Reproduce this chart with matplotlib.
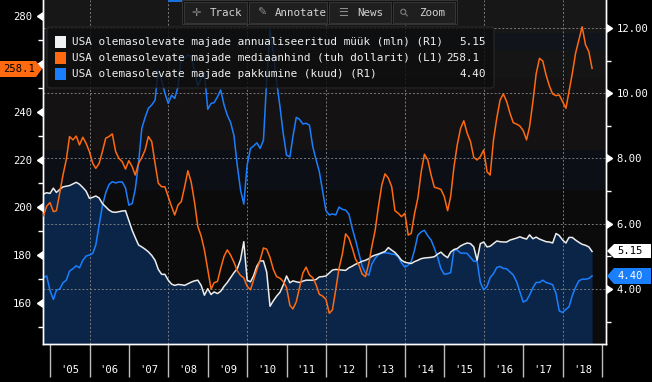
import matplotlib
matplotlib.use('Agg')
import matplotlib.pyplot as plt
import matplotlib.transforms as mtransforms
from matplotlib.patches import Polygon, Rectangle, FancyBboxPatch
from matplotlib.ticker import FixedLocator
import pandas as pd

# monthly data, Oct 2004 .. Sep 2018 (one row = Oct..Sep)
months = pd.date_range('2004-10-31', periods=168, freq='ME')

# existing home sales, annualised (mln) - right axis
sales = [
    6.91, 6.95, 6.93, 7.09, 6.96, 7.05, 7.13, 7.15, 7.17, 7.22, 7.27, 7.21,
    7.11, 7.00, 6.78, 6.81, 6.85, 6.79, 6.62, 6.52, 6.42, 6.36, 6.35, 6.37,
    6.39, 6.40, 6.10, 5.80, 5.58, 5.35, 5.29, 5.22, 5.14, 5.03, 4.88, 4.60,
    4.45, 4.45, 4.27, 4.15, 4.11, 4.14, 4.13, 4.11, 4.16, 4.21, 4.25, 4.27,
    4.11, 3.81, 4.01, 3.83, 3.91, 3.86, 3.93, 4.08, 4.20, 4.35, 4.50, 4.62,
    4.90, 5.45, 4.27, 4.22, 4.40, 4.70, 4.86, 4.86, 4.52, 3.47, 3.64, 3.78,
    3.90, 4.12, 4.40, 4.19, 4.25, 4.22, 4.20, 4.24, 4.27, 4.27, 4.27, 4.29,
    4.37, 4.38, 4.40, 4.49, 4.58, 4.60, 4.59, 4.58, 4.57, 4.65, 4.70, 4.76,
    4.80, 4.85, 4.88, 4.93, 5.00, 5.04, 5.07, 5.11, 5.15, 5.27, 5.19, 5.12,
    5.01, 4.88, 4.82, 4.80, 4.78, 4.84, 4.88, 4.93, 4.95, 4.96, 4.97, 4.99,
    5.07, 5.13, 5.03, 4.96, 5.13, 5.21, 5.24, 5.32, 5.37, 5.41, 5.39, 5.29,
    4.88, 5.39, 5.44, 5.29, 5.31, 5.39, 5.47, 5.45, 5.44, 5.44, 5.50, 5.53,
    5.56, 5.60, 5.56, 5.53, 5.66, 5.54, 5.59, 5.53, 5.49, 5.45, 5.44, 5.41,
    5.70, 5.64, 5.50, 5.41, 5.58, 5.58, 5.50, 5.43, 5.37, 5.34, 5.29, 5.15,
]

# median price (thousand USD) - left axis
price = [
    196.5, 200.5, 202.0, 198.2, 198.6, 206.0, 213.5, 220.0, 229.6, 228.2, 229.8, 226.1,
    229.3, 226.8, 223.3, 218.4, 216.3, 218.4, 223.3, 228.9, 229.6, 230.7, 223.3, 220.5,
    219.1, 216.0, 219.5, 217.0, 213.5, 218.4, 220.8, 224.0, 229.6, 227.5, 218.4, 210.1,
    208.6, 208.6, 204.5, 200.3, 196.8, 201.0, 202.4, 208.6, 215.3, 210.5, 202.0, 192.0,
    188.0, 182.2, 174.0, 165.8, 168.5, 169.0, 174.5, 179.5, 182.2, 180.0, 177.0, 173.5,
    171.5, 170.5, 167.0, 165.5, 169.5, 174.0, 178.0, 183.0, 182.5, 179.0, 174.0, 171.0,
    170.4, 169.0, 166.5, 159.0, 157.5, 160.5, 166.5, 172.5, 175.0, 171.7, 170.6, 167.7,
    163.6, 162.9, 161.5, 155.7, 157.1, 165.7, 174.5, 180.5, 188.9, 187.1, 182.9, 178.3,
    175.9, 172.1, 171.0, 176.6, 183.6, 190.5, 200.3, 209.3, 214.0, 212.2, 208.6, 198.6,
    197.5, 196.1, 197.5, 188.4, 189.1, 197.5, 203.8, 214.8, 222.2, 219.8, 213.5, 208.4,
    208.0, 207.5, 204.5, 198.6, 204.5, 217.0, 226.1, 233.0, 236.2, 231.0, 227.5, 220.9,
    219.8, 221.2, 224.0, 214.9, 213.5, 228.2, 237.2, 244.9, 247.4, 244.2, 239.3, 235.4,
    234.8, 234.0, 232.1, 228.2, 233.7, 244.2, 255.8, 262.3, 261.2, 255.3, 250.7, 247.4,
    246.7, 247.0, 244.2, 241.4, 248.4, 256.0, 264.4, 270.0, 275.5, 268.0, 265.1, 258.1,
]

# months of supply - right axis
supply = [
    4.35, 4.40, 3.95, 3.68, 3.96, 4.00, 4.19, 4.27, 4.55, 4.62, 4.71, 4.65,
    4.88, 5.01, 5.04, 5.09, 5.35, 5.95, 6.55, 6.95, 7.20, 7.29, 7.25, 7.28,
    7.28, 7.10, 6.57, 6.62, 7.05, 7.85, 8.92, 9.26, 9.54, 9.64, 9.79, 10.71,
    10.40, 10.00, 9.69, 9.94, 9.84, 10.20, 11.10, 11.07, 11.17, 11.12, 10.66, 10.22,
    10.46, 10.63, 9.51, 9.69, 9.71, 9.89, 10.10, 9.64, 9.33, 9.10, 8.70, 7.80,
    7.03, 6.60, 7.80, 8.31, 8.38, 8.48, 8.31, 8.56, 10.40, 11.95, 11.22, 10.35,
    9.59, 8.77, 8.10, 8.05, 8.67, 9.26, 9.20, 9.06, 9.08, 9.02, 8.36, 7.97,
    7.59, 7.00, 6.40, 6.27, 6.30, 6.27, 6.51, 6.44, 6.42, 6.29, 5.85, 5.50,
    5.09, 4.70, 4.49, 4.42, 4.77, 4.94, 5.05, 5.10, 5.11, 5.10, 5.07, 5.06,
    4.98, 4.80, 4.67, 4.73, 4.84, 5.20, 5.65, 5.75, 5.80, 5.63, 5.50, 5.25,
    4.97, 4.62, 4.45, 4.47, 4.50, 5.20, 5.19, 5.10, 5.10, 5.09, 4.97, 4.85,
    4.85, 4.20, 3.97, 4.08, 4.35, 4.47, 4.66, 4.69, 4.63, 4.62, 4.52, 4.43,
    4.22, 3.92, 3.60, 3.65, 3.81, 4.04, 4.20, 4.20, 4.27, 4.20, 4.17, 4.13,
    3.86, 3.33, 3.28, 3.38, 3.45, 3.80, 4.05, 4.25, 4.30, 4.30, 4.32, 4.40,
]

years = list(range(2005, 2020))
year_labels = ["'05", "'06", "'07", "'08", "'09", "'10", "'11",
               "'12", "'13", "'14", "'15", "'16", "'17", "'18"]
left_ticks = [160, 180, 200, 220, 240, 260, 280]
left_labels = ['160', '180', '200', '220', '240', '', '280']
right_ticks = [4, 6, 8, 10, 12]

legend_rows = [
    ('USA olemasolevate majade annualiseeritud müük (mln) (R1)', '5.15', '#f2f2f2'),
    ('USA olemasolevate majade mediaanhind (tuh dollarit) (L1)', '258.1', '#ff6a10'),
    ('USA olemasolevate majade pakkumine (kuud) (R1)', '4.40', '#1a7fff'),
]

WHITE = '#ececec'
ORANGE = '#ff6a10'
BLUE = '#1a7fff'
plt.rcParams['font.family'] = ['DejaVu Sans Mono', 'DejaVu Sans']

W, H = 652, 382
fig = plt.figure(figsize=(W / 100, H / 100), dpi=100, facecolor='black')


def fxy(px, py):
    return px / W, 1 - py / H


ax = fig.add_axes([43 / W, 1 - 344 / H, 563 / W, 344 / H])
ax.set_facecolor('#0b0b0b')
axl = ax.twinx()
ax.yaxis.tick_right()
axl.yaxis.tick_left()

ax.set_xlim(pd.Timestamp('2004-10-27'), pd.Timestamp('2019-02-06'))
ax.set_ylim(2.314, 12.858)
axl.set_ylim(142.86, 286.69)

# background bands (pixel rows from top of plot)
bands = [(0, 33, '#171717'), (33, 50, '#11141b'), (50, 78, '#151515'),
         (78, 150, '#141213'), (150, 190, '#0c0f15'), (190, 344, '#0b0b0b')]
y0, y1 = ax.get_ylim()
for top, bot, col in bands:
    ax.axhspan(y1 - bot / 344 * (y1 - y0), y1 - top / 344 * (y1 - y0),
               color=col, lw=0, zorder=0.1)

# sales area + lines
ax.fill_between(months, sales, 0, color='#0a2548', lw=0, zorder=1)
ax.grid(axis='y', which='major', color='#7a7a7a', ls=(0, (2, 2)), lw=0.7)
for y in years:
    if y % 2 == 0:
        ax.axvline(pd.Timestamp(f'{y}-01-01'), color='#7a7a7a', ls=(0, (2, 2)),
                   lw=0.7, zorder=1.5)
ax.plot(months, supply, color=BLUE, lw=1.1, zorder=2)
ax.plot(months, sales, color=WHITE, lw=1.1, zorder=2.1)
axl.plot(months, price, color=ORANGE, lw=1.1, zorder=3)

# x axis: long year separators, labels in the middle of each year
ax.set_xticks([pd.Timestamp(f'{y}-01-01') for y in years])
ax.set_xticklabels([])
ax.set_xticks([pd.Timestamp(f'{y}-07-02') for y in years[:-1]], minor=True)
ax.set_xticklabels(year_labels, minor=True)
ax.tick_params(axis='x', which='major', length=24, width=1, color='#bdbdbd')
ax.tick_params(axis='x', which='minor', length=0, pad=15, labelsize=7.6,
               labelcolor='white')

# right axis
ax.set_yticks(right_ticks)
ax.set_yticklabels([f'{v:.2f}' for v in right_ticks])
ax.yaxis.set_minor_locator(FixedLocator([3, 5, 7, 9, 11]))
ax.tick_params(axis='y', which='major', length=0, pad=7.5, labelsize=7.6,
               labelcolor='white')
ax.tick_params(axis='y', which='minor', length=3.5, width=1, color='white')
tr = mtransforms.blended_transform_factory(ax.transAxes, ax.transData)
ax.plot([1] * len(right_ticks), right_ticks, ls='none', marker=9, ms=5.5,
        color='white', transform=tr, clip_on=False, zorder=5)

# left axis
axl.set_yticks(left_ticks)
axl.set_yticklabels(left_labels)
axl.yaxis.set_minor_locator(FixedLocator([150, 170, 190, 210, 230, 250, 270]))
axl.tick_params(axis='y', which='major', length=0, pad=8, labelsize=7.6,
                labelcolor='white')
axl.tick_params(axis='y', which='minor', length=3.5, width=1, color='white')
trl = mtransforms.blended_transform_factory(axl.transAxes, axl.transData)
axl.plot([0] * len(left_ticks), left_ticks, ls='none', marker=8, ms=5.5,
         color='white', transform=trl, clip_on=False, zorder=5)

for a in (ax, axl):
    a.spines['top'].set_visible(False)
    for s in ('left', 'right', 'bottom'):
        a.spines[s].set_color('white')
        a.spines[s].set_linewidth(1)


# value tags on the axes
def tag(points, face, text, tx, ty, tcol):
    fig.add_artist(Polygon([fxy(*p) for p in points], closed=True,
                           transform=fig.transFigure, facecolor=face,
                           edgecolor='none', zorder=5))
    fig.text(*fxy(tx, ty), text, color=tcol, ha='center', va='center',
             fontsize=7.6, zorder=6)


tag([(0, 61), (36, 61), (42, 69), (36, 77), (0, 77)], ORANGE, '258.1', 19, 69, 'black')
tag([(607, 251), (614, 244), (651, 244), (651, 258), (614, 258)], 'white', '5.15', 630, 251, 'black')
tag([(607, 276), (614, 268), (651, 268), (651, 284), (614, 284)], BLUE, '4.40', 630, 276, 'white')

# legend box
lx, ly = fxy(47, 88)
lw_, lh = 447 / W, 61 / H
fig.add_artist(FancyBboxPatch((lx, ly), lw_, lh, boxstyle='round,pad=0,rounding_size=0.006',
                              transform=fig.transFigure, facecolor='#0e0e0e',
                              edgecolor='#2e2e2e', lw=0.8, alpha=0.82, zorder=4))
value_right = [486, 479, 486]
for k, (label, val, col) in enumerate(legend_rows):
    cy = 42 + 16 * k
    fig.add_artist(Rectangle(fxy(55, cy + 6), 11 / W, 12 / H, transform=fig.transFigure,
                             facecolor=col, edgecolor='none', zorder=5))
    fig.text(*fxy(72, cy), label, color='#f0f0f0', fontsize=7.9, ha='left',
             va='center', zorder=6)
    fig.text(*fxy(value_right[k], cy), val, color='#f0f0f0', fontsize=7.9,
             ha='right', va='center', zorder=6)

# toolbar on top
fig.add_artist(Rectangle(fxy(168, 2), 29 / W, 2 / H, transform=fig.transFigure,
                         facecolor='#1a6fd8', edgecolor='none', zorder=4))
fig.add_artist(Rectangle(fxy(228, 2), 22 / W, 2 / H, transform=fig.transFigure,
                         facecolor='#1a6fd8', edgecolor='none', zorder=4))
fig.add_artist(Rectangle(fxy(182, 24), 275 / W, 24 / H, transform=fig.transFigure,
                         facecolor='#111111', edgecolor='#333333', lw=0.8, zorder=4))
buttons = [(184, 247, '\u271b', 196, 0, 'Track', 210),
           (249, 327, '\u270e', 262, 0, 'Annotate', 275),
           (329, 391, '\u2630', 343, 0, 'News', 357),
           (393, 455, '\u26b2', 405, 45, 'Zoom', 419)]
for bx0, bx1, icon, ix, rot, name, nx in buttons:
    fig.add_artist(Rectangle(fxy(bx0, 23), (bx1 - bx0) / W, 21 / H,
                             transform=fig.transFigure, facecolor='#1f1f1f',
                             edgecolor='#3a3a3a', lw=0.6, zorder=5))
    fig.text(*fxy(ix, 12.5), icon, color='#8c8c8c', fontsize=8, ha='center',
             va='center', rotation=rot, family=['DejaVu Sans'], zorder=6)
    fig.text(*fxy(nx, 12.5), name, color='#d2d2d2', fontsize=7.8, ha='left',
             va='center', zorder=6)

fig.savefig('out.png', dpi=100, facecolor='black')
